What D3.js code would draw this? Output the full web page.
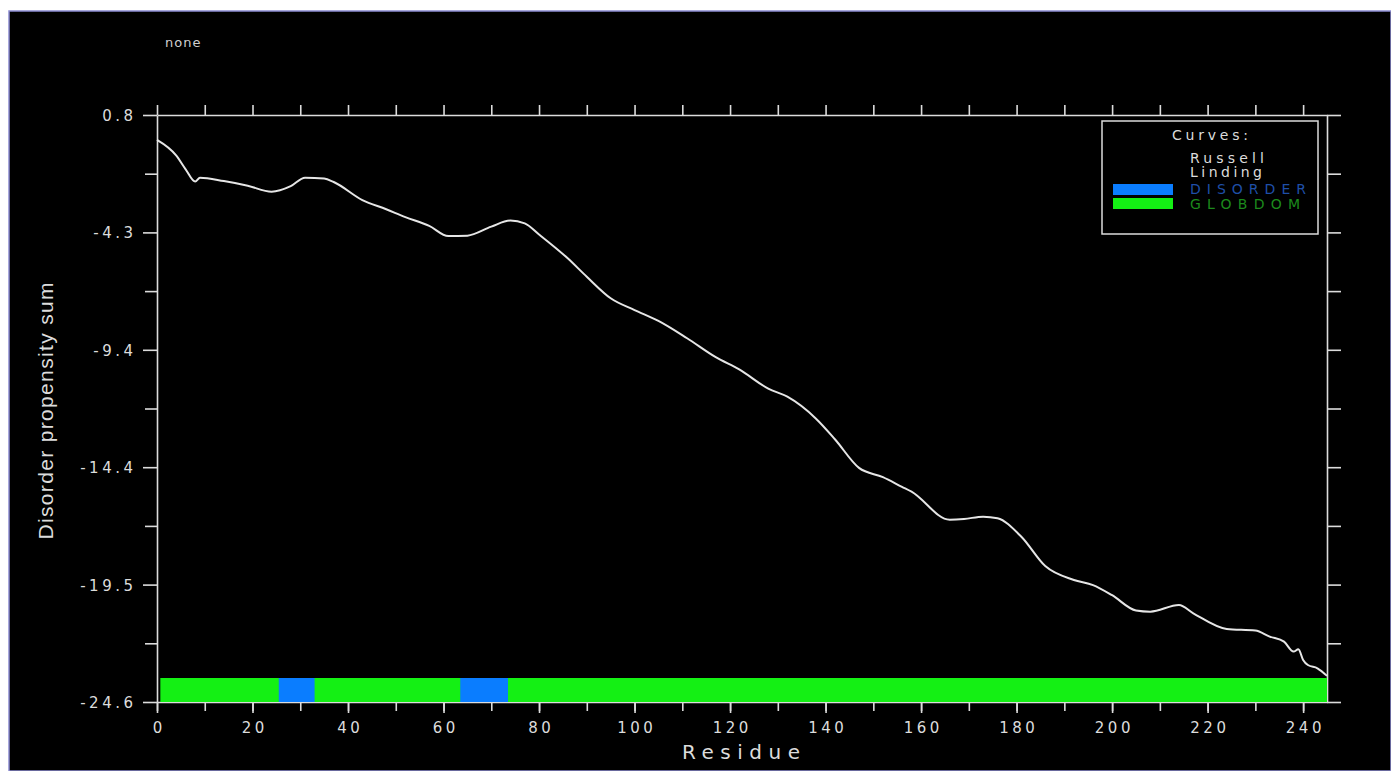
<!DOCTYPE html>
<html>
<head>
<meta charset="utf-8">
<script src="https://cdn.jsdelivr.net/npm/d3@7"></script>
<style>
  html, body { margin: 0; padding: 0; background: #fff; }
  svg { display: block; }
</style>
</head>
<body>
<script>
// disorder propensity sum
var residues = [0, 4, 6, 8, 9, 14, 19, 24, 28, 31, 35, 37, 43, 48, 52, 57, 61, 65, 70, 74, 77, 80,
  86, 90, 95, 100, 105, 111, 117, 122, 128, 132, 138, 142, 147, 152, 156, 158, 166, 169, 173, 176,
  181, 186, 192, 196, 200, 205, 208, 214, 217, 224, 230, 233, 236, 238, 239, 240, 241, 243, 245];
var propensity = [-0.28, -0.95, -1.55, -2.08, -1.91, -2.06, -2.26, -2.52, -2.28, -1.91, -1.95, -2.10,
  -2.88, -3.28, -3.62, -4.0, -4.44, -4.42, -4.03, -3.77, -3.89, -4.37,
  -5.40, -6.20, -7.13, -7.64, -8.11, -8.86, -9.68, -10.22, -11.04, -11.39, -12.34, -13.24,
  -14.47, -14.87, -15.29, -15.50, -16.71, -16.68, -16.58, -16.65,
  -17.45, -18.72, -19.32, -19.54, -19.98, -20.64, -20.69, -20.40, -20.76, -21.44, -21.51,
  -21.77, -21.99, -22.42, -22.32, -22.78, -23.0, -23.14, -23.47];

// domain bars at the bottom
var globStart = [0.7], globEnd = [245];
var disorderStart = [25.5, 63.5], disorderEnd = [33, 73.5];

var yTicks = [0.8, -4.28, -9.36, -14.44, -19.52, -24.6];
var xTicks = d3.range(0, 241, 20);
var xMinor = d3.range(0, 246, 10);

var legendItems = ["Russell", "Linding", "DISORDER", "GLOBDOM"];

var width = 1391, height = 771;
var svg = d3.select("body").append("svg")
    .attr("width", width)
    .attr("height", height);

// black page with a thin bluish frame
svg.append("rect")
    .attr("x", 9).attr("y", 11)
    .attr("width", width - 9).attr("height", height - 11)
    .attr("fill", "#000")
    .attr("stroke", "#8c8cd2").attr("stroke-width", 1.5);

var x = d3.scaleLinear().domain([0, 245]).range([157, 1327]);
var y = d3.scaleLinear().domain([-24.6, 0.8]).range([702, 115]);

var fg = "#dcdcdc";
var tickFont = "'DejaVu Sans', sans-serif";
var spacing = 3.5;

// plain hyphen instead of d3's unicode minus
var fmtY = function(d){ return d3.format(".1f")(d).replace("\u2212", "-"); };

// minor y ticks (halfway between labelled ones)
var yMinor = d3.range(yTicks.length - 1).map(function(i){ return (yTicks[i] + yTicks[i+1]) / 2; });

function styleAxis(g) {
    g.selectAll("path, line").attr("stroke", fg).attr("stroke-width", 1.6);
    g.selectAll("text").attr("fill", fg)
        .style("font-family", tickFont).style("font-size", "15px")
        .style("letter-spacing", spacing + "px");
}

// left
svg.append("g").attr("transform", "translate(157,0)")
    .call(d3.axisLeft(y).tickValues(yTicks).tickSize(14).tickSizeOuter(0).tickPadding(10)
        .tickFormat(fmtY))
    .call(styleAxis)
    .selectAll("text").attr("dx", spacing).attr("dy", "0.36em");
svg.append("g").attr("transform", "translate(157,0)")
    .call(d3.axisLeft(y).tickValues(yMinor).tickSize(12).tickFormat(""))
    .call(styleAxis).select(".domain").remove();

// right
svg.append("g").attr("transform", "translate(1327,0)")
    .call(d3.axisRight(y).tickValues(yTicks.concat(yMinor)).tickSize(14).tickSizeOuter(0).tickFormat(""))
    .call(styleAxis);

// top
svg.append("g").attr("transform", "translate(0,115)")
    .call(d3.axisTop(x).tickValues(xMinor).tickSize(10).tickSizeOuter(0).tickFormat(""))
    .call(styleAxis);

// bottom
svg.append("g").attr("transform", "translate(0,702)")
    .call(d3.axisBottom(x).tickValues(xMinor).tickSize(9).tickSizeOuter(0).tickFormat(""))
    .call(styleAxis);
svg.append("g").attr("transform", "translate(0,702)")
    .call(d3.axisBottom(x).tickValues(xTicks).tickSize(11).tickSizeOuter(0).tickPadding(9)
        .tickFormat(d3.format("d")))
    .call(styleAxis)
    .call(function(g){ g.select(".domain").remove(); })
    .selectAll("text").attr("dx", spacing / 2);

// domain bars
var barTop = 678;
svg.selectAll("rect.glob").data(globStart).enter().append("rect")
    .attr("class", "glob")
    .attr("x", function(d){ return x(d); })
    .attr("y", barTop)
    .attr("width", function(d, i){ return x(globEnd[i]) - x(d); })
    .attr("height", 702 - barTop)
    .attr("fill", "#14f014");
svg.selectAll("rect.dis").data(disorderStart).enter().append("rect")
    .attr("class", "dis")
    .attr("x", function(d){ return x(d); })
    .attr("y", barTop)
    .attr("width", function(d, i){ return x(disorderEnd[i]) - x(d); })
    .attr("height", 702 - barTop)
    .attr("fill", "#0a7dff");

// curve
var line = d3.line()
    .x(function(d){ return x(d[0]); })
    .y(function(d){ return y(d[1]); })
    .curve(d3.curveMonotoneX);
svg.append("path")
    .datum(d3.zip(residues, propensity))
    .attr("d", line)
    .attr("fill", "none")
    .attr("stroke", "#e6e6e6")
    .attr("stroke-width", 2);

// titles
svg.append("text")
    .attr("x", 165).attr("y", 47)
    .attr("fill", "#cfcfcf")
    .style("font-family", tickFont).style("font-size", "13px")
    .style("letter-spacing", "1px")
    .text("none");

svg.append("text")
    .attr("transform", "translate(53,411) rotate(-90)")
    .attr("text-anchor", "middle")
    .attr("fill", fg)
    .style("font-family", "'Liberation Sans', Arial, sans-serif").style("font-size", "21px")
    .attr("textLength", 257)
    .text("Disorder propensity sum");

svg.append("text")
    .attr("x", 682).attr("y", 759)
    .attr("fill", fg)
    .style("font-family", tickFont).style("font-size", "20px")
    .attr("textLength", 118)
    .text("Residue");

// legend
var lg = svg.append("g");
lg.append("rect")
    .attr("x", 1102).attr("y", 121).attr("width", 216).attr("height", 113)
    .attr("fill", "#000").attr("stroke", fg).attr("stroke-width", 1.5);
lg.append("text")
    .attr("x", 1172).attr("y", 140)
    .attr("fill", fg)
    .style("font-family", tickFont).style("font-size", "14px")
    .attr("textLength", 76)
    .text("Curves:");

var legendBase = [163, 177, 194, 209];
var legendLen = [74, 72, 116, 110];
var legendColor = [fg, fg, "#1f4fa8", "#1c8a1c"];
var swatchColor = [null, null, "#0a7dff", "#14f014"];

lg.selectAll("text.item").data(legendItems).enter().append("text")
    .attr("class", "item")
    .attr("x", 1190)
    .attr("y", function(d, i){ return legendBase[i]; })
    .attr("fill", function(d, i){ return legendColor[i]; })
    .style("font-family", tickFont).style("font-size", "14px")
    .attr("textLength", function(d, i){ return legendLen[i]; })
    .text(function(d){ return d; });

lg.selectAll("rect.sw").data(legendItems.filter(function(d, i){ return swatchColor[i]; }))
    .enter().append("rect")
    .attr("class", "sw")
    .attr("x", 1113)
    .attr("y", function(d, i){ return [184, 198][i]; })
    .attr("width", 60).attr("height", 11)
    .attr("fill", function(d, i){ return swatchColor[i + 2]; });
</script>
</body>
</html>
